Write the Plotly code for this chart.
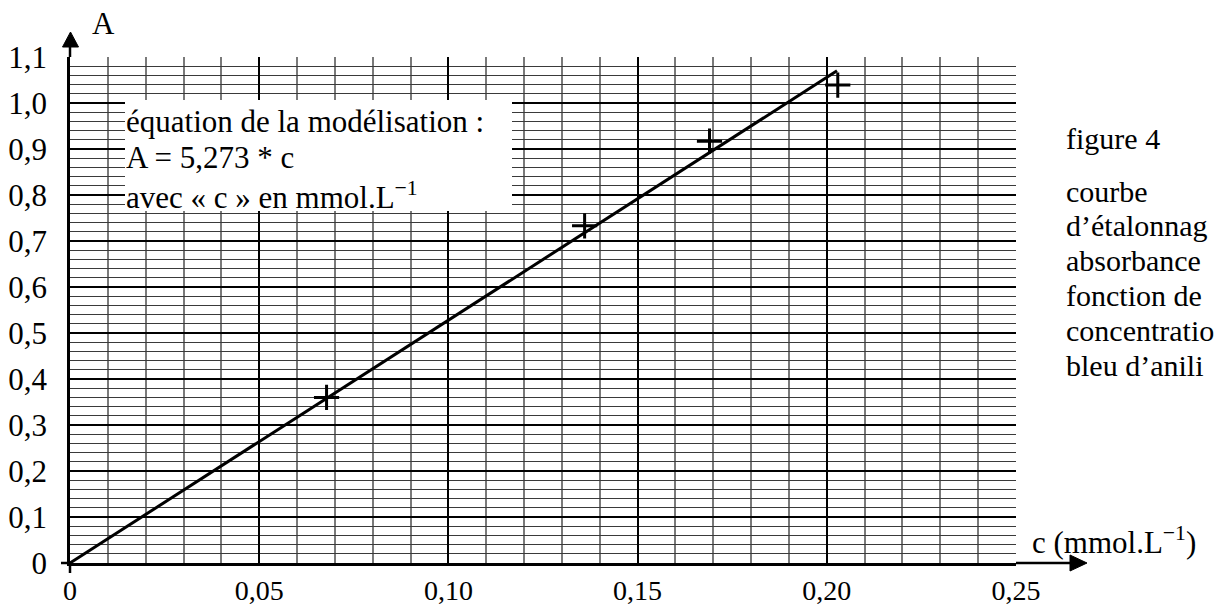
import plotly.graph_objects as go

# ---- data ----
conc = [0.0678, 0.1360, 0.1690, 0.2029]          # c (mmol/L)
absorb = [0.360, 0.733, 0.917, 1.039]            # A
model_c = [0.0, 0.2027]                          # modelled line A = 5,273 * c
model_A = [0.0, 1.070]

x_tick_vals = [0, 0.05, 0.10, 0.15, 0.20, 0.25]
x_tick_text = ["0", "0,05", "0,10", "0,15", "0,20", "0,25"]
y_tick_vals = [0, 0.1, 0.2, 0.3, 0.4, 0.5, 0.6, 0.7, 0.8, 0.9, 1.0, 1.1]
y_tick_text = ["0", "0,1", "0,2", "0,3", "0,4", "0,5", "0,6", "0,7", "0,8", "0,9", "1,0", "1,1"]

eq_lines = ["équation de la modélisation :", "A = 5,273 * c", "avec « c » en mmol.L<sup>−1</sup>"]
side_lines = ["courbe", "d’étalonnag", "absorbance", "fonction de", "concentratio", "bleu d’anili"]
fig_title = "figure 4"
x_title = "c (mmol.L<sup>−1</sup>)"
y_title = "A"

# ---- geometry helpers (pixels -> paper) ----
W, H = 1216, 608
L, R, T, B = 70, 200, 57, 45
PW, PH = W - L - R, H - T - B


def px(x):
    return (x - L) / PW


def py(y):
    return (H - B - y) / PH


FONT = "Liberation Serif, Times New Roman, serif"
FS = 31

fig = go.Figure()
fig.add_trace(go.Scatter(x=model_c, y=model_A, mode="lines",
                         line=dict(color="black", width=3), hoverinfo="skip"))
fig.add_trace(go.Scatter(x=conc, y=absorb, mode="markers",
                         marker=dict(symbol="cross-thin", size=18,
                                     line=dict(color="black", width=3)),
                         cliponaxis=False))

shapes = []
# white box behind the equation text
shapes.append(dict(type="rect", xref="paper", yref="paper",
                   x0=px(125), x1=px(512), y0=py(211), y1=py(100),
                   fillcolor="white", line=dict(width=0), layer="above"))
# axis extensions and arrows
blk = dict(color="black", width=2.5)
shapes.append(dict(type="line", xref="paper", yref="paper",
                   x0=px(1016), x1=px(1074), y0=py(563), y1=py(563), line=blk))
shapes.append(dict(type="path", xref="paper", yref="paper",
                   path=f"M {px(1087)} {py(563)} L {px(1070)} {py(555)} L {px(1070)} {py(571)} Z",
                   fillcolor="black", line=dict(color="black", width=1)))
shapes.append(dict(type="line", xref="paper", yref="paper",
                   x0=px(70), x1=px(70), y0=py(57), y1=py(44), line=blk))
shapes.append(dict(type="path", xref="paper", yref="paper",
                   path=f"M {px(70.5)} {py(32)} L {px(62.5)} {py(47)} L {px(78.5)} {py(47)} Z",
                   fillcolor="black", line=dict(color="black", width=1)))
# small ticks at origin
shapes.append(dict(type="line", xref="paper", yref="paper",
                   x0=px(61), x1=px(70), y0=py(563), y1=py(563), line=blk))
shapes.append(dict(type="line", xref="paper", yref="paper",
                   x0=px(70), x1=px(70), y0=py(563), y1=py(573), line=blk))

ann = []
tf = dict(family=FONT, size=FS, color="black")
sf = dict(family=FONT, size=30, color="black")
xf = dict(family=FONT, size=28, color="black")
for i, t in enumerate(eq_lines):
    ann.append(dict(text=t, xref="paper", yref="paper", x=px(124), y=py(121 + 37 * i),
                    xanchor="left", yanchor="middle", showarrow=False, font=tf))
ann.append(dict(text=fig_title, xref="paper", yref="paper", x=px(1064), y=py(138),
                xanchor="left", yanchor="middle", showarrow=False, font=sf))
for i, t in enumerate(side_lines):
    ann.append(dict(text=t, xref="paper", yref="paper", x=px(1064), y=py(191 + 34.8 * i),
                    xanchor="left", yanchor="middle", showarrow=False, font=sf))
ann.append(dict(text=x_title, xref="paper", yref="paper", x=px(1030), y=py(540),
                xanchor="left", yanchor="middle", showarrow=False, font=tf))
ann.append(dict(text=y_title, xref="paper", yref="paper", x=px(90), y=py(24),
                xanchor="left", yanchor="middle", showarrow=False, font=tf))

fig.update_layout(
    width=W, height=H,
    margin=dict(l=L, r=R, t=T, b=B, pad=0, autoexpand=False),
    paper_bgcolor="white", plot_bgcolor="white",
    showlegend=False,
    font=dict(family=FONT, size=FS, color="black"),
    shapes=shapes, annotations=ann,
    xaxis=dict(range=[0, 0.25], tickmode="array", tickvals=x_tick_vals, ticktext=x_tick_text,
               showgrid=True, gridcolor="black", gridwidth=1.5,
               minor=dict(tickmode="linear", tick0=0, dtick=0.01, showgrid=True,
                          gridcolor="#7a7a7a", gridwidth=1.5, ticks=""),
               showline=True, linecolor="black", linewidth=2.5, zeroline=False,
               ticks="", ticklabelstandoff=1, tickfont=xf, fixedrange=True, automargin=False),
    yaxis=dict(range=[0, 1.1], tickmode="array", tickvals=y_tick_vals, ticktext=y_tick_text,
               showgrid=True, gridcolor="black", gridwidth=2,
               minor=dict(tickmode="linear", tick0=0, dtick=0.02, showgrid=True,
                          gridcolor="#3a3a3a", gridwidth=1, ticks=""),
               showline=True, linecolor="black", linewidth=2.5, zeroline=False,
               ticks="", ticklabelstandoff=14, tickfont=tf, fixedrange=True, automargin=False),
)

fig.write_html("out.html")
